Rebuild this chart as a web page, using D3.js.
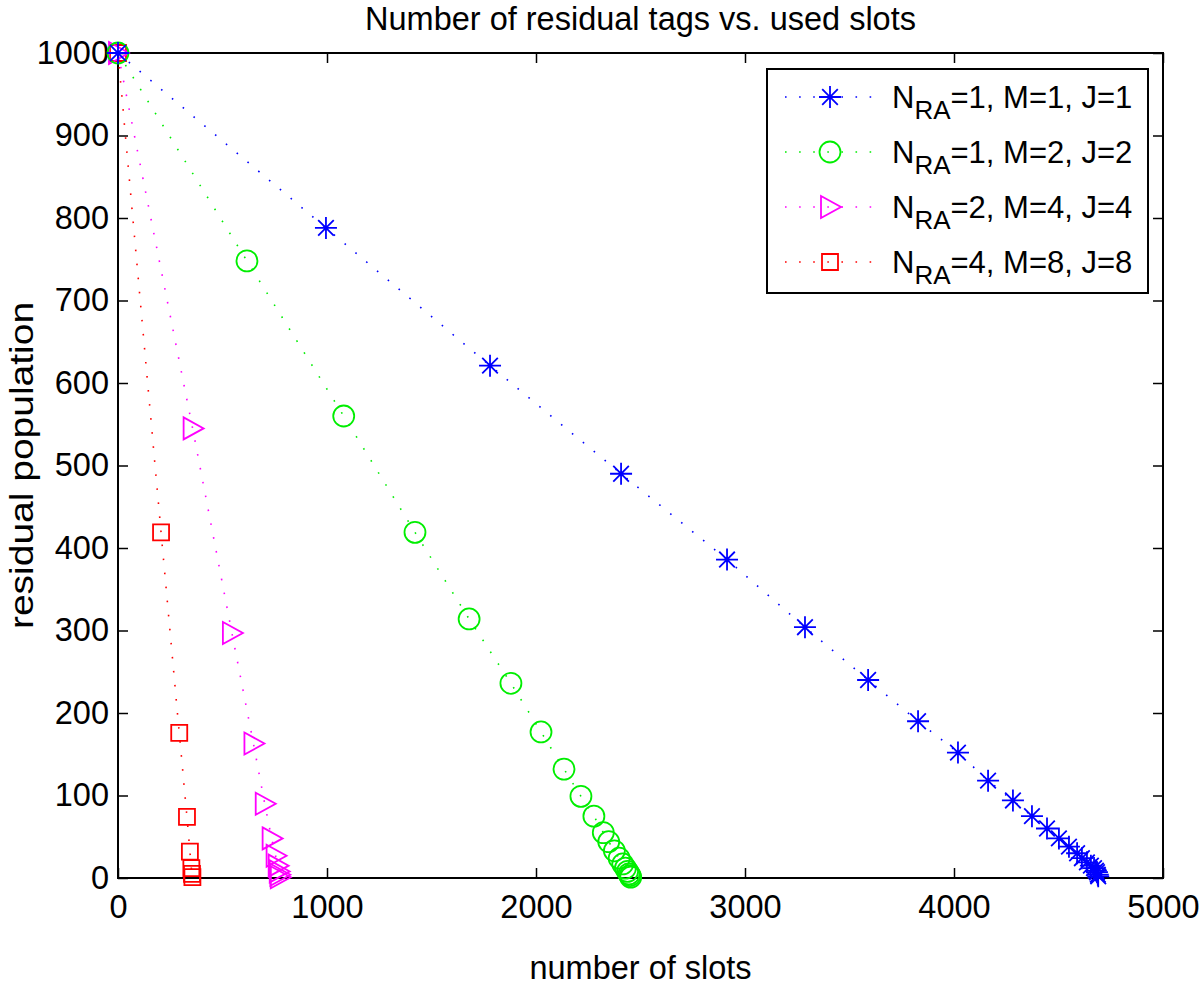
<!DOCTYPE html>
<html>
<head>
<meta charset="utf-8">
<script src="https://cdn.jsdelivr.net/npm/d3@7"></script>
<style>
  html, body { margin: 0; padding: 0; background: #fff; }
  svg { display: block; font-family: "Liberation Sans", Arial, Helvetica, sans-serif; }
</style>
</head>
<body>
<svg id="chart" width="1200" height="985"></svg>
<script>
// ---- data ----
const xTicks = [0, 1000, 2000, 3000, 4000, 5000];
const yTicks = [0, 100, 200, 300, 400, 500, 600, 700, 800, 900, 1000];

const seriesNames = ["NRA=1, M=1, J=1", "NRA=1, M=2, J=2", "NRA=2, M=4, J=4", "NRA=4, M=8, J=8"];
const legendRest = ["=1, M=1, J=1", "=1, M=2, J=2", "=2, M=4, J=4", "=4, M=8, J=8"];

const blueX = [0, 995, 1780, 2407, 2914, 3287, 3589, 3828, 4019, 4163, 4282, 4373, 4445, 4502, 4550, 4589, 4612, 4636, 4655, 4670, 4679, 4684, 4688, 4690];
const blueY = [1000, 788, 621, 490, 386, 304, 240, 190, 152, 118, 94, 75, 60, 48, 38, 30, 24, 19, 15, 12, 9, 7, 4, 2];

const greenX = [0, 617, 1080, 1421, 1680, 1880, 2024, 2134, 2215, 2277, 2322, 2348, 2375, 2398, 2415, 2428, 2438, 2445, 2450, 2453];
const greenY = [1000, 748, 560, 419, 314, 236, 177, 132, 99, 75, 55, 44, 33, 24, 17, 12, 8, 5, 3, 1];

const magentaX = [0, 357, 545, 648, 702, 735, 754, 764, 769, 772, 774];
const magentaY = [1000, 545, 297, 163, 90, 48, 27, 15, 8, 4, 1];

const redX = [0, 206, 293, 330, 344, 351, 354, 356];
const redY = [1000, 419, 176, 74, 32, 12, 5, 1];

const colors = ["#0000ff", "#00ee00", "#ff00ff", "#ff0000"];
const markers = ["star", "circle", "triangle", "square"];

// ---- layout ----
const svg = d3.select("#chart");
const L = 118, R = 1163, T = 53, B = 878;
const x = d3.scaleLinear().domain([0, 5000]).range([L, R]);
const y = d3.scaleLinear().domain([0, 1000]).range([B, T]);

const FS = 32.5;

function markerPath(type) {
  const p = d3.path();
  if (type === "star") {
    const s = 11, d = 7.8;
    p.moveTo(-s, 0); p.lineTo(s, 0);
    p.moveTo(0, -s); p.lineTo(0, s);
    p.moveTo(-d, -d); p.lineTo(d, d);
    p.moveTo(-d, d); p.lineTo(d, -d);
  } else if (type === "circle") {
    p.moveTo(10.5, 0); p.arc(0, 0, 10.5, 0, 2 * Math.PI);
  } else if (type === "triangle") {
    p.moveTo(-9, -11); p.lineTo(11, 0); p.lineTo(-9, 11); p.closePath();
  } else {
    p.rect(-8, -8, 16, 16);
  }
  return p.toString();
}

// axes box
svg.append("rect").attr("x", L).attr("y", T).attr("width", R - L).attr("height", B - T)
  .attr("fill", "none").attr("stroke", "#000").attr("stroke-width", 2);

const gx = svg.append("g").attr("transform", `translate(0,${B})`)
  .call(d3.axisBottom(x).tickValues(xTicks).tickFormat(d3.format("d")).tickSizeInner(-10).tickSizeOuter(0).tickPadding(17));
const gxTop = svg.append("g").attr("transform", `translate(0,${T})`)
  .call(d3.axisTop(x).tickValues(xTicks).tickFormat("").tickSizeInner(-10).tickSizeOuter(0));
const gy = svg.append("g").attr("transform", `translate(${L},0)`)
  .call(d3.axisLeft(y).tickValues(yTicks).tickFormat(d3.format("d")).tickSizeInner(-10).tickSizeOuter(0).tickPadding(9));
const gyR = svg.append("g").attr("transform", `translate(${R},0)`)
  .call(d3.axisRight(y).tickValues(yTicks).tickFormat("").tickSizeInner(-10).tickSizeOuter(0));

[gx, gxTop, gy, gyR].forEach(g => {
  g.select(".domain").remove();
  g.selectAll(".tick line").attr("stroke", "#000").attr("stroke-width", 1.5);
  g.selectAll(".tick text").attr("font-size", FS).attr("fill", "#000")
    .attr("font-family", "'Liberation Sans', Arial, sans-serif");
});

// series
const series = [
  { xs: redX, ys: redY, c: 3 },
  { xs: magentaX, ys: magentaY, c: 2 },
  { xs: greenX, ys: greenY, c: 1 },
  { xs: blueX, ys: blueY, c: 0 }
];
const line = d3.line().x(d => x(d[0])).y(d => y(d[1]));
series.forEach(s => {
  const pts = s.xs.map((v, i) => [v, s.ys[i]]);
  const g = svg.append("g");
  g.append("path").attr("d", line(pts)).attr("fill", "none")
    .attr("stroke", colors[s.c]).attr("stroke-width", 1.6).attr("stroke-dasharray", "1.6,12.5");
  g.selectAll("path.m").data(pts).join("path").attr("class", "m")
    .attr("transform", d => `translate(${x(d[0])},${y(d[1])})`)
    .attr("d", markerPath(markers[s.c]))
    .attr("fill", "none").attr("stroke", colors[s.c]).attr("stroke-width", 1.8);
});

// title & axis labels
svg.append("text").attr("x", (L + R) / 2).attr("y", 30).attr("text-anchor", "middle")
  .attr("font-size", FS).text("Number of residual tags vs. used slots");
svg.append("text").attr("x", (L + R) / 2).attr("y", 979).attr("text-anchor", "middle")
  .attr("font-size", FS).text("number of slots");
svg.append("text").attr("transform", `translate(33,${(T + B) / 2}) scale(1,1.2) rotate(-90)`).attr("text-anchor", "middle")
  .attr("font-size", FS).text("residual population");

// legend
const lg = svg.append("g");
lg.append("rect").attr("x", 767).attr("y", 69).attr("width", 381).attr("height", 224)
  .attr("fill", "#fff").attr("stroke", "#000").attr("stroke-width", 2);
const rowY = [97, 152, 207, 262];
seriesNames.forEach((name, i) => {
  const ry = rowY[i];
  lg.append("line").attr("x1", 785).attr("x2", 875).attr("y1", ry).attr("y2", ry)
    .attr("stroke", colors[i]).attr("stroke-width", 1.6).attr("stroke-dasharray", "1.6,12.5");
  lg.append("path").attr("transform", `translate(830,${ry})`).attr("d", markerPath(markers[i]))
    .attr("fill", "none").attr("stroke", colors[i]).attr("stroke-width", 1.8);
  const t = lg.append("text").attr("x", 892).attr("y", ry + 11).attr("font-size", 31);
  t.append("tspan").text("N");
  t.append("tspan").attr("dy", 11).attr("font-size", 26).text("RA");
  t.append("tspan").attr("dy", -11).text(legendRest[i]);
});
</script>
</body>
</html>
